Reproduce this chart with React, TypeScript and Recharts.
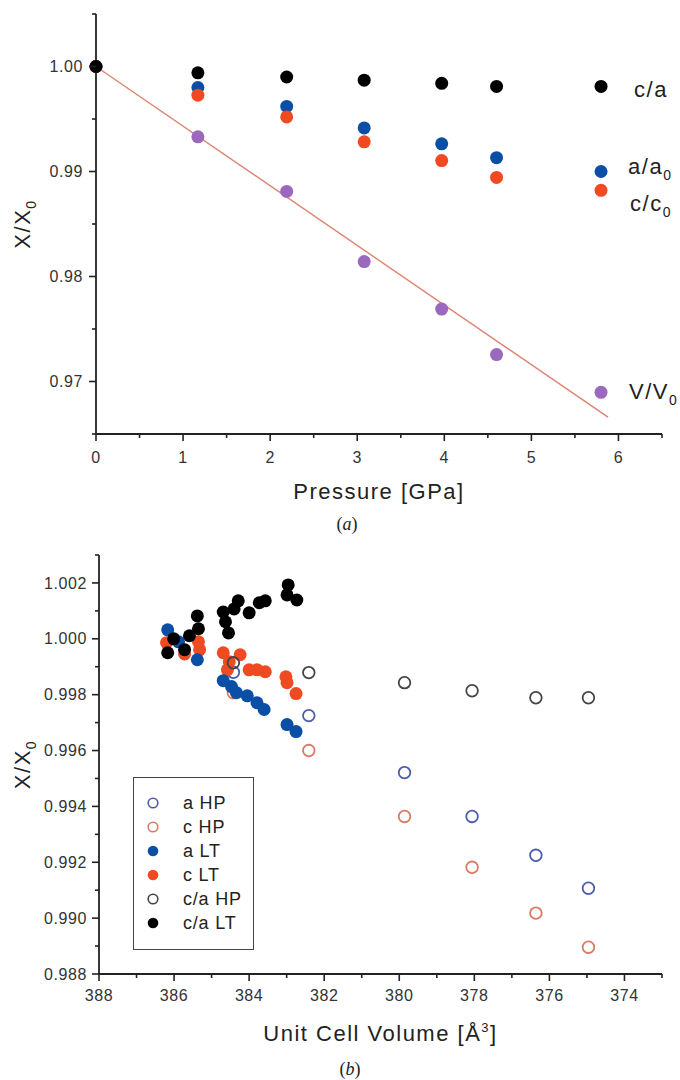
import { ScatterChart, Scatter, XAxis, YAxis, Legend } from 'recharts'

// ---- (a) ratios vs pressure ----
const pressure = [0, 1.17, 2.19, 3.08, 3.97, 4.6, 5.8]
const caRatio = [1.0, 0.9994, 0.999, 0.9987, 0.9984, 0.9981, 0.9981]
const aRatio = [1.0, 0.998, 0.9962, 0.99415, 0.99264, 0.99132, 0.99]
const cRatio = [1.0, 0.99727, 0.9952, 0.99283, 0.99104, 0.98944, 0.98821]
const vRatio = [1.0, 0.9933, 0.9881, 0.98142, 0.9769, 0.97256, 0.96897]
// linear fit of V/V0
const fitPressure = [0, 5.88]
const fitVolume = [1.0, 0.9666]

const pressureTicks = [0, 0.5, 1, 1.5, 2, 2.5, 3, 3.5, 4, 4.5, 5, 5.5, 6, 6.5]
const ratioTicks = [0.965, 0.97, 0.975, 0.98, 0.985, 0.99, 0.995, 1.0, 1.005]

// ---- (b) ratios vs unit cell volume ----
const hpVolume = [384.42, 382.41, 379.86, 378.06, 376.36, 374.96]
const aHP = [0.9988, 0.99725, 0.99521, 0.99364, 0.99225, 0.99107]
const cHP = [0.99807, 0.996, 0.99364, 0.99182, 0.99018, 0.98896]
const caHP = [0.99914, 0.99879, 0.99843, 0.99814, 0.99789, 0.99789]

const aLTVolume = [386.17, 385.88, 385.38, 384.69, 384.47, 384.34, 384.05, 383.79, 383.6, 382.99, 382.75]
const aLT = [1.00032, 0.99989, 0.99925, 0.9985, 0.99829, 0.99807, 0.99796, 0.99771, 0.99747, 0.99693, 0.99668]
const cLTVolume = [386.2, 385.72, 385.35, 385.32, 384.69, 384.53, 384.24, 384.58, 384.0, 383.79, 383.57, 383.02, 382.99, 382.75]
const cLT = [0.99986, 0.99946, 0.99989, 0.99961, 0.9995, 0.99918, 0.99943, 0.99889, 0.99889, 0.99889, 0.99882, 0.99864, 0.99843, 0.99804]
const caLTVolume = [386.17, 386.01, 385.72, 385.59, 385.35, 385.38, 384.69, 384.63, 384.55, 384.4, 384.29, 384.0, 383.73, 383.57, 382.96, 382.99, 382.73]
const caLT = [0.9995, 1.0, 0.99961, 1.00011, 1.00036, 1.00082, 1.00096, 1.00061, 1.00021, 1.00107, 1.00136, 1.00093, 1.00129, 1.00136, 1.00193, 1.00157, 1.00139]

const volumeTicks = [373, 374, 375, 376, 377, 378, 379, 380, 381, 382, 383, 384, 385, 386, 387, 388]
const volRatioTicks = [0.988, 0.989, 0.99, 0.991, 0.992, 0.993, 0.994, 0.995, 0.996, 0.997, 0.998, 0.999, 1.0, 1.001, 1.002, 1.003]

const zip = (xs: number[], ys: number[]) => xs.map((x, i) => ({ x, y: ys[i] }))

const FONT = '"Liberation Sans", Arial, Helvetica, sans-serif'
const AXIS = '#222'
const BLUE = '#0b4ea6'
const RED = '#f04a22'
const PURPLE = '#9a68bc'
const OPEN_BLUE = '#4b5cab'
const OPEN_RED = '#d97a62'
const OPEN_GRAY = '#444'

const tickText = { fontFamily: FONT, fontSize: 16, letterSpacing: 0.6, fill: '#333' }
const titleText = { fontFamily: FONT, fontSize: 22, letterSpacing: 1.5, fill: AXIS }

const AxisTick = ({ x, y, payload, side, major, fmt, gap }: any) => {
  const v = payload.value
  const isMajor = major(v)
  const len = isMajor ? 7 : 4
  if (side === 'x') {
    return (
      <g>
        <line x1={x} y1={y} x2={x} y2={y + len} stroke={AXIS} strokeWidth={1.6} />
        {isMajor && (
          <text x={x} y={y + gap} dy="0.35em" textAnchor="middle" {...tickText}>
            {fmt(v)}
          </text>
        )}
      </g>
    )
  }
  return (
    <g>
      <line x1={x} y1={y} x2={x - len} y2={y} stroke={AXIS} strokeWidth={1.6} />
      {isMajor && (
        <text x={x - gap} y={y} dy="0.35em" textAnchor="end" {...tickText}>
          {fmt(v)}
        </text>
      )}
    </g>
  )
}

const YTitle = ({ viewBox }: any) => {
  const cx = viewBox.x + 22
  const cy = viewBox.y + viewBox.height / 2
  return (
    <text x={cx} y={cy} dy="0.35em" textAnchor="middle" transform={`rotate(-90 ${cx} ${cy})`} {...titleText}>
      X/X<tspan dy={6} fontSize={14}>0</tspan>
    </text>
  )
}

const XTitle = ({ viewBox, title, caption, dyTitle, dyCaption }: any) => (
  <g>
    <text x={viewBox.x + viewBox.width / 2} y={viewBox.y + dyTitle} dy="0.35em" textAnchor="middle" {...titleText}>
      {title}
    </text>
    <text x={viewBox.x + 251} y={viewBox.y + dyCaption} dy="0.35em" textAnchor="middle"
      fontFamily='"Liberation Serif", "Times New Roman", serif' fontSize={18} fill={AXIS}>
      (<tspan fontStyle="italic">{caption}</tspan>)
    </text>
  </g>
)

// dot with an optional series label next to the last point
const labeledDot = (fill: string, r: number, lastX: number, label?: any, dx = 30, dy = 0) => (p: any) => (
  <g>
    <circle cx={p.cx} cy={p.cy} r={r} fill={fill} />
    {label && p.payload && p.payload.x === lastX && (
      <text x={p.cx + dx} y={p.cy + dy} {...titleText}>
        {label}
      </text>
    )}
  </g>
)

const ring = (stroke: string, r: number) => (p: any) => (
  <circle cx={p.cx} cy={p.cy} r={r} fill="none" stroke={stroke} strokeWidth={1.8} />
)

const legendItems = [
  { name: 'a HP', color: OPEN_BLUE, open: true },
  { name: 'c HP', color: OPEN_RED, open: true },
  { name: 'a LT', color: BLUE, open: false },
  { name: 'c LT', color: RED, open: false },
  { name: 'c/a HP', color: OPEN_GRAY, open: true },
  { name: 'c/a LT', color: '#000', open: false },
]

const LegendBox = () => (
  <div style={{ width: 121, height: 173, border: '1.5px solid #444', boxSizing: 'border-box', background: '#fff' }}>
    <svg width={118} height={170}>
      {legendItems.map((it, i) => {
        const cy = 25 + i * 24
        return (
          <g key={it.name}>
            {it.open ? (
              <circle cx={19} cy={cy} r={4.8} fill="none" stroke={it.color} strokeWidth={1.6} />
            ) : (
              <circle cx={19} cy={cy} r={5.3} fill={it.color} />
            )}
            <text x={49} y={cy} dy="0.35em" fontFamily={FONT} fontSize={18} letterSpacing={0.8} fill={AXIS}>
              {it.name}
            </text>
          </g>
        )
      })}
    </svg>
  </div>
)

const lastP = pressure[pressure.length - 1]

export default function App() {
  return (
    <div style={{ position: 'absolute', left: 0, top: 0, width: 680, height: 1080, background: '#fff' }}>
      <ScatterChart width={680} height={540} margin={{ top: 14, right: 18, bottom: 76, left: 0 }}>
        <XAxis
          type="number"
          dataKey="x"
          domain={[0, 6.5]}
          ticks={pressureTicks}
          interval={0}
          height={30}
          tickSize={0}
          tickMargin={0}
          tickLine={false}
          stroke={AXIS}
          strokeWidth={1.8}
          tick={(p: any) => (
            <AxisTick {...p} side="x" gap={23} major={(v: number) => Number.isInteger(v)} fmt={(v: number) => String(v)} />
          )}
          label={{ content: (p: any) => <XTitle {...p} title="Pressure [GPa]" caption="a" dyTitle={57} dyCaption={90} /> }}
        />
        <YAxis
          type="number"
          dataKey="y"
          domain={[0.965, 1.005]}
          ticks={ratioTicks}
          interval={0}
          width={96}
          tickSize={0}
          tickMargin={0}
          tickLine={false}
          stroke={AXIS}
          strokeWidth={1.8}
          tick={(p: any) => (
            <AxisTick {...p} side="y" gap={13} major={(v: number) => Math.round(v * 1000) % 10 === 0} fmt={(v: number) => v.toFixed(2)} />
          )}
          label={{ content: (p: any) => <YTitle {...p} /> }}
        />
        <Scatter
          data={zip(fitPressure, fitVolume)}
          line={{ stroke: '#dc8470', strokeWidth: 1.4 }}
          shape={() => <g />}
          isAnimationActive={false}
        />
        <Scatter data={zip(pressure, vRatio)} shape={labeledDot(PURPLE, 6.5, lastP, <>V/V<tspan dy={6} fontSize={14}>0</tspan></>, 28, 7)} isAnimationActive={false} />
        <Scatter data={zip(pressure, aRatio)} shape={labeledDot(BLUE, 6.5, lastP, <>a/a<tspan dy={6} fontSize={14}>0</tspan></>, 27, 2)} isAnimationActive={false} />
        <Scatter data={zip(pressure, cRatio)} shape={labeledDot(RED, 6.5, lastP, <>c/c<tspan dy={6} fontSize={14}>0</tspan></>, 29, 21)} isAnimationActive={false} />
        <Scatter data={zip(pressure, caRatio)} shape={labeledDot('#000', 6.5, lastP, 'c/a', 33, 11)} isAnimationActive={false} />
      </ScatterChart>

      <ScatterChart width={680} height={540} margin={{ top: 15, right: 18, bottom: 76, left: 0 }}>
        <XAxis
          type="number"
          dataKey="x"
          domain={[373, 388]}
          reversed
          ticks={volumeTicks}
          interval={0}
          height={30}
          tickSize={0}
          tickMargin={0}
          tickLine={false}
          stroke={AXIS}
          strokeWidth={1.8}
          tick={(p: any) => (
            <AxisTick {...p} side="x" gap={21} major={(v: number) => v % 2 === 0} fmt={(v: number) => String(v)} />
          )}
          label={{
            content: (p: any) => (
              <XTitle
                {...p}
                title={<>Unit Cell Volume [Å<tspan dy={-9} fontSize={13}>3</tspan><tspan dy={9}>]</tspan></>}
                caption="b"
                dyTitle={59}
                dyCaption={95}
              />
            ),
          }}
        />
        <YAxis
          type="number"
          dataKey="y"
          domain={[0.988, 1.003]}
          ticks={volRatioTicks}
          interval={0}
          width={99}
          tickSize={0}
          tickMargin={0}
          tickLine={false}
          stroke={AXIS}
          strokeWidth={1.8}
          tick={(p: any) => (
            <AxisTick {...p} side="y" gap={12} major={(v: number) => Math.round(v * 1000) % 2 === 0} fmt={(v: number) => v.toFixed(3)} />
          )}
          label={{ content: (p: any) => <YTitle {...p} /> }}
        />
        <Legend
          layout="vertical"
          align="center"
          verticalAlign="middle"
          content={() => <LegendBox />}
          wrapperStyle={{ left: 133, top: 237, width: 121, height: 173 }}
        />
        <Scatter name="c HP" data={zip(hpVolume, cHP)} shape={ring(OPEN_RED, 5.8)} isAnimationActive={false} />
        <Scatter name="a HP" data={zip(hpVolume, aHP)} shape={ring(OPEN_BLUE, 5.8)} isAnimationActive={false} />
        <Scatter name="c LT" data={zip(cLTVolume, cLT)} shape={labeledDot(RED, 6.5, 0)} isAnimationActive={false} />
        <Scatter name="a LT" data={zip(aLTVolume, aLT)} shape={labeledDot(BLUE, 6.5, 0)} isAnimationActive={false} />
        <Scatter name="c/a LT" data={zip(caLTVolume, caLT)} shape={labeledDot('#000', 6.5, 0)} isAnimationActive={false} />
        <Scatter name="c/a HP" data={zip(hpVolume, caHP)} shape={ring(OPEN_GRAY, 5.8)} isAnimationActive={false} />
      </ScatterChart>
    </div>
  )
}
